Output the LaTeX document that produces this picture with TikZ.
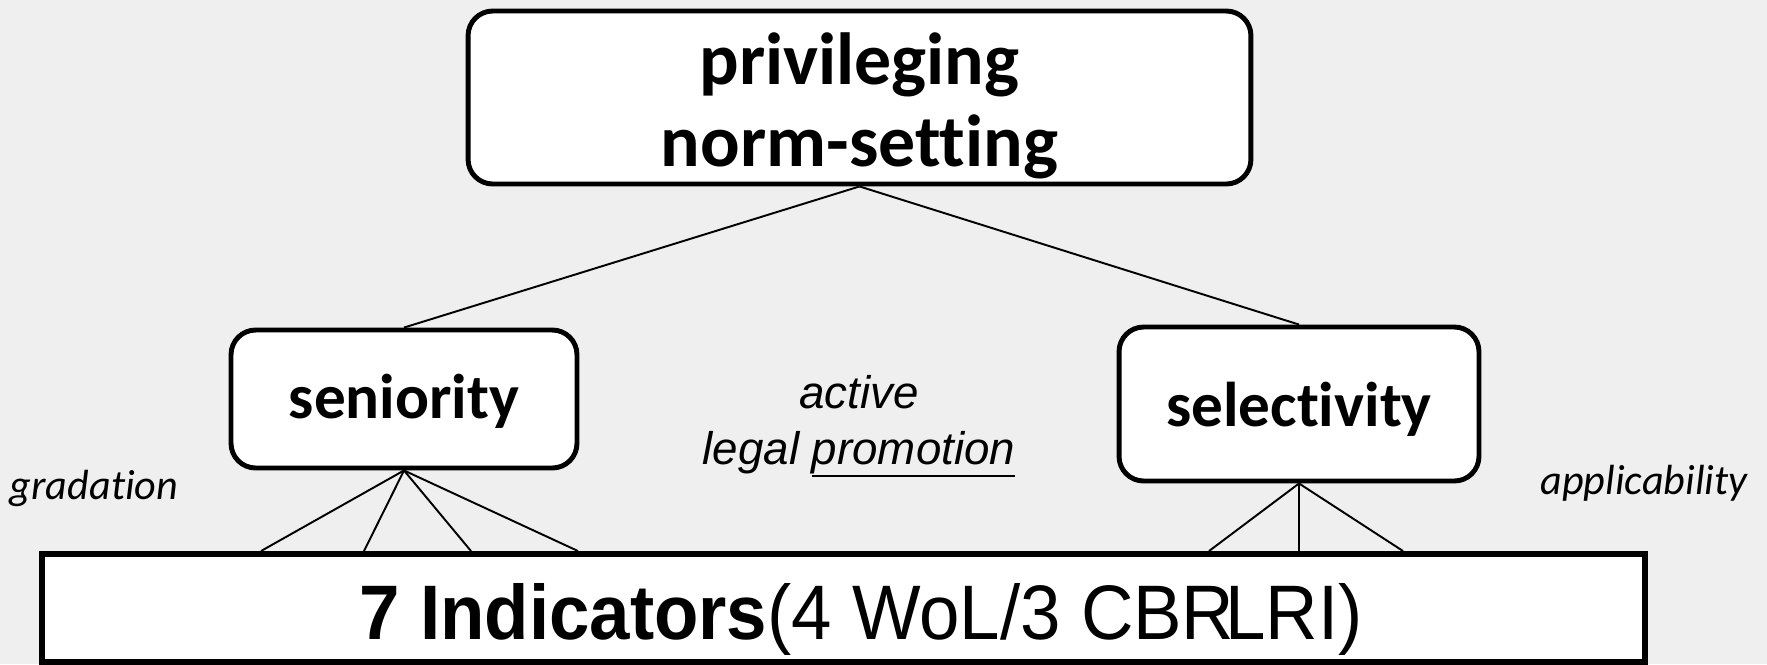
\documentclass[tikz,border=0pt]{standalone}
\usepackage{fontspec}
\setmainfont[Ligatures=NoCommon]{Carlito}
\newfontfamily\arialfont{Liberation Sans}
\newfontfamily\indfont[FakeStretch=0.94]{Liberation Sans}
\usepackage{tikz}
\definecolor{bggrey}{HTML}{EFEFEF}
\def\uline#1{\leavevmode\vtop{\hbox{#1}\kern0.3pt\hrule height 1.1pt}}
\def\boxtext#1#2{\fontsize{#1}{#2}\selectfont\bfseries}

\begin{document}
\begin{tikzpicture}[x=0.02cm,y=-0.02cm,
  box/.style={draw,line width=2.8pt,fill=white,rounded corners=14pt,inner sep=0pt,align=center},
  link/.style={line width=1.1pt}]
\fill[bggrey] (0,0) rectangle (1767,664);
\useasboundingbox (0,0) rectangle (1767,664);
\node[box,minimum width=15.66cm,minimum height=3.46cm,font=\boxtext{42}{47},
  text height=2.78cm,text depth=0cm] (norm) at (859.5,97.5) {privileging\\norm-setting};
\node[box,minimum width=6.92cm,minimum height=2.76cm,font=\boxtext{36}{40},
  text height=0.81cm,text depth=0.05cm] (sen) at (404,399) {seniority};
\node[box,minimum width=7.2cm,minimum height=3.08cm,font=\boxtext{36}{40},
  text height=0.93cm,text depth=0.05cm] (sel) at (1299,404) {selectivity};
\node[draw,line width=3.4pt,fill=white,inner sep=0pt,minimum width=32.06cm,minimum height=2.16cm,
  text height=1.24cm,text depth=0cm,font=\indfont\fontsize{44}{50}\selectfont] (ind) at (843.5,608)
  {\kern0.7cm\textbf{7 Indicators}(4 WoL/3 CBR\kern-0.12em LRI)};
\node[font=\arialfont\itshape\fontsize{26}{32}\selectfont,align=center] (act) at (859,426) {active\\legal \uline{promotion}};
\node[font=\itshape\fontsize{24}{28}\selectfont] (grad) at (94,488) {gradation};
\node[font=\itshape\fontsize{24}{28}\selectfont] (appl) at (1644,483) {applicability};
\draw[link] (norm.south) -- (sen.north);
\draw[link] (norm.south) -- (sel.north);
\foreach \x [count=\i] in {261,364,471,578} {
  \coordinate (s\i) at (\x,552);
  \draw[link] (sen.south) -- (s\i |- ind.north);
}
\foreach \x [count=\i] in {1209,1299,1403} {
  \coordinate (t\i) at (\x,552);
  \draw[link] (sel.south) -- (t\i |- ind.north);
}
\end{tikzpicture}
\end{document}
